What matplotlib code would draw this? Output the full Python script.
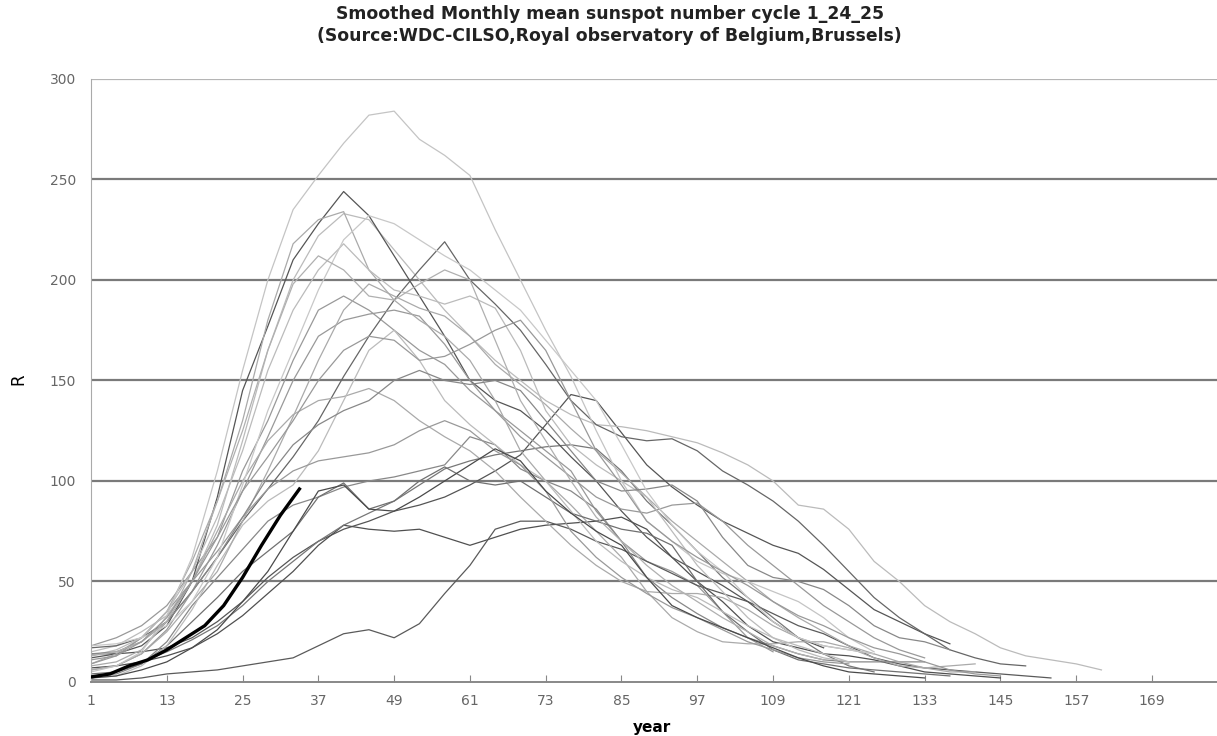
import numpy as np
import matplotlib
matplotlib.use("Agg")
import matplotlib.pyplot as plt

# smoothed monthly sunspot number, one value every 4 months from the cycle minimum
step = 4
cycle1 = [14, 14, 15, 17, 22, 30, 40, 52, 62, 70, 76, 80, 85, 88, 92, 98, 105, 113, 128, 143,
          140, 124, 108, 97, 88, 80, 74, 68, 64, 56, 46, 36, 30, 24, 19]
cycle2 = [18, 22, 28, 38, 55, 72, 105, 130, 160, 185, 192, 185, 175, 165, 158, 145, 135, 125, 115, 105,
          85, 70, 60, 55, 48, 35, 22, 15]
cycle4 = [15, 18, 25, 33, 50, 78, 120, 165, 200, 222, 233, 230, 215, 200, 185, 172, 160, 150, 140, 133,
          128, 127, 125, 122, 119, 114, 108, 100, 88, 86, 76, 60, 50, 38, 30, 24, 17, 13, 11, 9, 6]
cycle5 = [7, 8, 10, 13, 17, 24, 33, 44, 55, 68, 78, 76, 75, 76, 72, 68, 72, 76, 78, 79,
          80, 82, 76, 62, 50, 40, 28, 20, 17, 14, 13, 11, 8, 5, 4, 3, 2]
cycle6 = [1, 1, 2, 4, 5, 6, 8, 10, 12, 18, 24, 26, 22, 29, 44, 58, 76, 80, 80, 76,
          70, 66, 60, 54, 48, 44, 40, 34, 28, 24, 18, 12, 9, 7, 6, 5, 4, 3, 2]
cycle7 = [2, 5, 10, 15, 21, 28, 38, 50, 60, 70, 78, 84, 90, 98, 106, 110, 113, 115, 117, 118,
          116, 105, 90, 78, 65, 52, 42, 32, 22, 14, 8, 5]
cycle8 = [12, 14, 18, 28, 50, 92, 145, 177, 210, 228, 244, 232, 212, 192, 172, 150, 140, 135, 125, 112,
          100, 85, 72, 62, 55, 48, 40, 30, 22, 17]
cycle9 = [17, 18, 22, 30, 45, 62, 80, 96, 112, 130, 152, 172, 190, 205, 219, 200, 188, 175, 158, 140,
          128, 122, 120, 121, 115, 105, 98, 90, 80, 68, 55, 42, 32, 24, 16, 12, 9, 8]
cycle10 = [6, 8, 14, 26, 45, 68, 95, 122, 150, 172, 180, 183, 185, 182, 168, 150, 135, 122, 112, 102,
           92, 86, 84, 88, 89, 80, 68, 58, 48, 38, 30, 22, 16, 12]
cycle11 = [9, 14, 22, 35, 60, 90, 130, 180, 218, 230, 234, 205, 190, 180, 172, 160, 140, 115, 100, 88,
           75, 62, 45, 32, 25, 20, 19, 19, 20, 20, 17, 12, 8, 7, 8, 9]
cycle12 = [3, 4, 9, 20, 38, 52, 66, 80, 88, 92, 97, 100, 102, 105, 108, 122, 118, 106, 100, 95,
           86, 70, 52, 42, 34, 27, 22, 18, 14, 11, 10, 10, 10, 10]
cycle13 = [8, 10, 16, 30, 50, 75, 100, 120, 133, 140, 142, 146, 140, 130, 122, 115, 105, 92, 80, 68,
           58, 50, 45, 44, 44, 42, 36, 28, 22, 18, 16, 14, 10, 7, 5, 5]
cycle14 = [4, 5, 9, 18, 30, 42, 55, 65, 75, 92, 99, 86, 90, 100, 107, 100, 98, 100, 92, 84,
           80, 76, 74, 68, 50, 35, 25, 16, 11, 9, 7, 6, 5, 4, 3]
cycle15 = [2, 3, 8, 18, 36, 58, 78, 90, 98, 115, 140, 165, 175, 160, 140, 128, 118, 108, 100, 85,
           70, 60, 52, 46, 42, 35, 28, 22, 16, 12, 10]
cycle16 = [9, 13, 22, 35, 50, 65, 82, 96, 105, 110, 112, 114, 118, 125, 130, 125, 115, 108, 95, 75,
           62, 52, 44, 37, 32, 26, 20, 16, 12, 10, 9]
cycle17 = [6, 8, 14, 25, 40, 55, 80, 105, 132, 160, 185, 198, 192, 186, 182, 172, 158, 148, 138, 126,
           115, 104, 92, 80, 70, 60, 50, 40, 32, 25, 18, 14]
cycle18 = [13, 16, 22, 35, 55, 82, 115, 155, 185, 205, 218, 205, 195, 192, 188, 192, 186, 165, 135, 118,
           108, 100, 92, 75, 58, 45, 32, 22, 18, 14, 10]
cycle19 = [5, 8, 15, 33, 62, 105, 155, 200, 235, 252, 268, 282, 284, 270, 262, 252, 225, 200, 175, 152,
           125, 100, 80, 70, 60, 54, 50, 45, 40, 32, 22, 15]
cycle20 = [14, 15, 20, 30, 45, 62, 82, 102, 118, 128, 135, 140, 150, 155, 150, 148, 150, 145, 130, 115,
           100, 95, 96, 98, 90, 72, 58, 52, 50, 46, 38, 28, 22, 20, 16]
cycle21 = [18, 19, 22, 28, 40, 62, 98, 135, 165, 195, 220, 232, 228, 220, 212, 205, 195, 185, 170, 155,
           140, 118, 95, 78, 65, 55, 42, 30, 22, 18, 16, 14]
cycle22 = [13, 15, 20, 30, 55, 90, 125, 165, 198, 212, 205, 192, 190, 198, 205, 200, 170, 140, 120, 100,
           82, 70, 58, 48, 40, 32, 25, 18, 14, 11]
cycle23 = [11, 13, 20, 32, 50, 72, 95, 112, 130, 150, 165, 172, 170, 160, 162, 168, 175, 180, 165, 140,
           115, 98, 80, 70, 62, 55, 48, 40, 33, 28, 22, 17, 14, 10, 6, 4, 3]
cycle24 = [2, 3, 6, 10, 17, 26, 40, 55, 75, 95, 98, 86, 85, 92, 100, 108, 116, 110, 95, 84,
           75, 68, 52, 38, 32, 27, 22, 17, 12, 8, 5, 4, 3, 2]

# current cycle, every 3 months
step25 = 3
cycle25 = [2.5, 4, 8, 11, 16, 22, 28, 38, 52, 68, 83, 96]

cycles = [cycle1, cycle2, cycle4, cycle5, cycle6, cycle7, cycle8, cycle9, cycle10, cycle11, cycle12,
          cycle13, cycle14, cycle15, cycle16, cycle17, cycle18, cycle19, cycle20, cycle21, cycle22, cycle23, cycle24]
greys = ['#555555', '#999999', '#bbbbbb', '#505050', '#5a5a5a', '#777777', '#555555',
         '#666666', '#999999', '#aaaaaa', '#888888', '#aaaaaa', '#707070', '#bbbbbb', '#999999',
         '#aaaaaa', '#bbbbbb', '#c4c4c4', '#888888', '#c8c8c8', '#b0b0b0', '#999999', '#4a4a4a']

xticks = list(range(1, 170, 12))

fig = plt.figure(figsize=(12.17, 7.36), dpi=100)
ax = fig.add_axes([0.0748, 0.0734, 0.9252, 0.8193])

# grid lines first, curves on top
for yv in [50, 100, 150, 200, 250]:
    ax.axhline(yv, color='#7a7a7a', lw=1.6, zorder=1)
ax.axhline(300, color='#b5b5b5', lw=1.6, zorder=1)

for vals, c in zip(cycles, greys):
    months = np.arange(1, 1 + step * len(vals), step)
    ax.plot(months, vals, color=c, lw=0.9, zorder=2)

m25 = np.arange(1, 1 + step25 * len(cycle25), step25)
ax.plot(m25, cycle25, color='black', lw=2.4, zorder=3)

ax.set_xlim(1, 179.3)
ax.set_ylim(0, 300)
ax.set_xticks(xticks)
ax.set_yticks(range(0, 301, 50))
ax.tick_params(axis='x', direction='in', length=5, color='#888888', pad=9, labelsize=10, labelcolor='#666666')
ax.tick_params(axis='y', length=0, pad=11, labelsize=10, labelcolor='#666666')
for s in ['top', 'right']:
    ax.spines[s].set_visible(False)
ax.spines['left'].set_color('#aaaaaa')
ax.spines['bottom'].set_color('#888888')
ax.spines['bottom'].set_linewidth(1.4)

fig.text(0.501, 0.966, "Smoothed Monthly mean sunspot number cycle 1_24_25\n"
         "(Source:WDC-CILSO,Royal observatory of Belgium,Brussels)",
         ha='center', va='center', fontsize=12.4, fontweight='bold', linespacing=1.3, color='#222222')
fig.text(0.0148, 0.485, "R", rotation=90, ha='center', va='center', fontsize=12)
fig.text(0.536, 0.011, "year", ha='center', va='center', fontsize=11, fontweight='bold')

fig.savefig("out.png", dpi=100)
